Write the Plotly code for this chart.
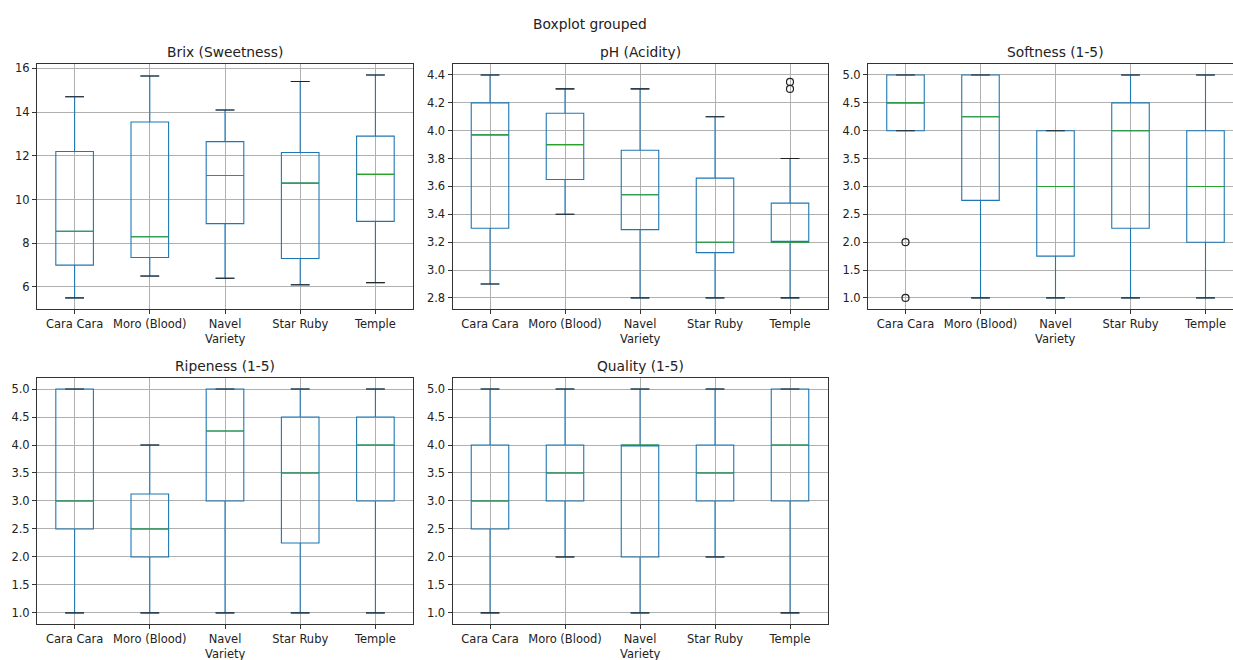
import plotly.graph_objects as go

# ---------------- data ----------------
categories = ["Cara Cara", "Moro (Blood)", "Navel", "Star Ruby", "Temple"]
positions = [1, 2, 3, 4, 5]

brix_low = [5.5, 6.5, 6.4, 6.1, 6.2]
brix_q1 = [7.0, 7.35, 8.9, 7.3, 9.0]
brix_med = [8.55, 8.3, 11.1, 10.75, 11.15]
brix_q3 = [12.2, 13.55, 12.65, 12.15, 12.9]
brix_high = [14.7, 15.65, 14.1, 15.4, 15.7]
brix_out_x = []
brix_out_y = []

ph_low = [2.9, 3.4, 2.8, 2.8, 2.8]
ph_q1 = [3.3, 3.65, 3.29, 3.125, 3.2]
ph_med = [3.97, 3.9, 3.54, 3.2, 3.2]
ph_q3 = [4.2, 4.125, 3.86, 3.66, 3.48]
ph_high = [4.4, 4.3, 4.3, 4.1, 3.8]
ph_out_x = [5, 5]
ph_out_y = [4.3, 4.35]

soft_low = [4.0, 1.0, 1.0, 1.0, 1.0]
soft_q1 = [4.0, 2.75, 1.75, 2.25, 2.0]
soft_med = [4.5, 4.25, 3.0, 4.0, 3.0]
soft_q3 = [5.0, 5.0, 4.0, 4.5, 4.0]
soft_high = [5.0, 5.0, 4.0, 5.0, 5.0]
soft_out_x = [1, 1]
soft_out_y = [2.0, 1.0]

ripe_low = [1.0, 1.0, 1.0, 1.0, 1.0]
ripe_q1 = [2.5, 2.0, 3.0, 2.25, 3.0]
ripe_med = [3.0, 2.5, 4.25, 3.5, 4.0]
ripe_q3 = [5.0, 3.125, 5.0, 4.5, 4.5]
ripe_high = [5.0, 4.0, 5.0, 5.0, 5.0]
ripe_out_x = []
ripe_out_y = []

qual_low = [1.0, 2.0, 1.0, 2.0, 1.0]
qual_q1 = [2.5, 3.0, 2.0, 3.0, 3.0]
qual_med = [3.0, 3.5, 4.0, 3.5, 4.0]
qual_q3 = [4.0, 4.0, 4.0, 4.0, 5.0]
qual_high = [5.0, 5.0, 5.0, 5.0, 5.0]
qual_out_x = []
qual_out_y = []

titles = ["Brix (Sweetness)", "pH (Acidity)", "Softness (1-5)", "Ripeness (1-5)", "Quality (1-5)"]
suptitle = "Boxplot grouped"
xlabel = "Variety"

brix_ticks = [6, 8, 10, 12, 14, 16]
ph_ticks = [2.8, 3.0, 3.2, 3.4, 3.6, 3.8, 4.0, 4.2, 4.4]
scale_ticks = [1.0, 1.5, 2.0, 2.5, 3.0, 3.5, 4.0, 4.5, 5.0]

# ---------------- layout geometry ----------------
W, H = 1233, 660
BLUE = "#1f77b4"
GREEN = "#2ca02c"
FRAME = "#333333"
GRID = "#b0b0b0"
FONT = "DejaVu Sans, Verdana, sans-serif"
TICKSIZE = 11.5
TITLESIZE = 13.8

col_px = [(37, 413), (452.5, 827.5), (868, 1243)]
row_px = [(62, 308), (377, 624)]

panels = [
    (brix_low, brix_q1, brix_med, brix_q3, brix_high, brix_out_x, brix_out_y, brix_ticks, "d", [4.99, 16.21]),
    (ph_low, ph_q1, ph_med, ph_q3, ph_high, ph_out_x, ph_out_y, ph_ticks, ".1f", [2.72, 4.48]),
    (soft_low, soft_q1, soft_med, soft_q3, soft_high, soft_out_x, soft_out_y, scale_ticks, ".1f", [0.8, 5.2]),
    (ripe_low, ripe_q1, ripe_med, ripe_q3, ripe_high, ripe_out_x, ripe_out_y, scale_ticks, ".1f", [0.8, 5.2]),
    (qual_low, qual_q1, qual_med, qual_q3, qual_high, qual_out_x, qual_out_y, scale_ticks, ".1f", [0.8, 5.2]),
]
grid_pos = [(0, 0), (0, 1), (0, 2), (1, 0), (1, 1)]

fig = go.Figure()
annotations = []
layout_axes = {}

for k, (low, q1, med, q3, high, ox, oy, yt, fmt, yr) in enumerate(panels):
    n = k + 1
    xa = "x" if n == 1 else f"x{n}"
    ya = "y" if n == 1 else f"y{n}"
    r, c = grid_pos[k]
    x0, x1 = col_px[c]
    ytop, ybot = row_px[r]
    x1c = min(x1, W)
    xdom = [x0 / W, x1c / W]
    ydom = [1 - ybot / H, 1 - ytop / H]
    # panel clipped by the right edge keeps the same category spacing
    xmax = 0.5 + 5 * (x1c - x0) / (x1 - x0)

    fig.add_trace(go.Box(
        x=positions, q1=q1, median=med, q3=q3, lowerfence=low, upperfence=high,
        width=0.5, whiskerwidth=0.5, boxpoints=False,
        line=dict(color=BLUE, width=1.1), fillcolor="rgba(0,0,0,0)",
        xaxis=xa, yaxis=ya, showlegend=False, hoverinfo="skip",
    ))
    # medians (green)
    mx, my = [], []
    for p, m in zip(positions, med):
        mx += [p - 0.25, p + 0.25, None]
        my += [m, m, None]
    fig.add_trace(go.Scatter(x=mx, y=my, mode="lines", line=dict(color=GREEN, width=1.1),
                             xaxis=xa, yaxis=ya, showlegend=False, hoverinfo="skip"))
    # caps (black)
    cx, cy = [], []
    for p, lo, hi in zip(positions, low, high):
        cx += [p - 0.125, p + 0.125, None, p - 0.125, p + 0.125, None]
        cy += [lo, lo, None, hi, hi, None]
    fig.add_trace(go.Scatter(x=cx, y=cy, mode="lines", line=dict(color="#222222", width=1.1),
                             xaxis=xa, yaxis=ya, showlegend=False, hoverinfo="skip"))
    # fliers
    if ox:
        fig.add_trace(go.Scatter(x=ox, y=oy, mode="markers",
                                 marker=dict(symbol="circle-open", size=7, color="#222222",
                                             line=dict(width=1.2)),
                                 xaxis=xa, yaxis=ya, showlegend=False, hoverinfo="skip"))

    xkey = "xaxis" if n == 1 else f"xaxis{n}"
    ykey = "yaxis" if n == 1 else f"yaxis{n}"
    layout_axes[xkey] = dict(
        domain=xdom, anchor=ya, range=[0.5, xmax],
        tickmode="array", tickvals=positions, ticktext=categories,
        showline=True, linecolor=FRAME, linewidth=1, mirror=True,
        ticks="outside", ticklen=4, tickcolor=FRAME, tickwidth=1,
        showgrid=True, gridcolor=GRID, gridwidth=0.8, zeroline=False,
        tickfont=dict(family=FONT, size=TICKSIZE, color="#222222"),
    )
    layout_axes[ykey] = dict(
        domain=ydom, anchor=xa, range=yr,
        tickmode="array", tickvals=yt, tickformat=fmt,
        showline=True, linecolor=FRAME, linewidth=1, mirror=(c != 2),
        ticks="outside", ticklen=4, tickcolor=FRAME, tickwidth=1,
        showgrid=True, gridcolor=GRID, gridwidth=0.8, zeroline=False,
        tickfont=dict(family=FONT, size=TICKSIZE, color="#222222"),
    )
    # subplot title
    annotations.append(dict(
        text=titles[k], xref="paper", yref="paper",
        x=(x0 + x1) / 2 / W, y=ydom[1], xanchor="center", yanchor="middle",
        yshift=11.5, showarrow=False,
        font=dict(family=FONT, size=TITLESIZE, color="#222222"),
    ))
    # x-axis label
    annotations.append(dict(
        text=xlabel, xref="paper", yref="paper",
        x=(x0 + x1) / 2 / W, y=ydom[0], xanchor="center", yanchor="middle",
        yshift=-30, showarrow=False,
        font=dict(family=FONT, size=TICKSIZE, color="#222222"),
    ))

annotations.append(dict(
    text=suptitle, xref="paper", yref="paper", x=589.5 / W, y=1 - 22 / H,
    xanchor="center", yanchor="middle", showarrow=False,
    font=dict(family=FONT, size=TITLESIZE, color="#222222"),
))

fig.update_layout(
    width=W, height=H,
    margin=dict(l=0, r=0, t=0, b=0),
    paper_bgcolor="white", plot_bgcolor="white",
    annotations=annotations,
    showlegend=False,
    **layout_axes,
)

fig.write_html(
    "out.html",
    config={"displayModeBar": False},
    post_script="document.body.style.margin='0';document.body.style.overflow='hidden';",
)
